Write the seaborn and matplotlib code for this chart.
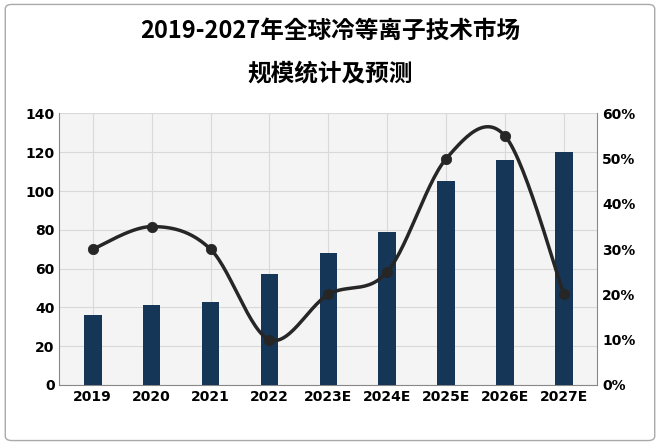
import numpy as np
import pandas as pd
import matplotlib
matplotlib.use("Agg")
import matplotlib.pyplot as plt
from matplotlib import font_manager
import seaborn as sns

years = ["2019", "2020", "2021", "2022", "2023E", "2024E", "2025E", "2026E", "2027E"]
market_size = [36, 41, 43, 57, 68, 79, 105, 116, 120]
growth_pct = [30, 35, 30, 10, 20, 25, 50, 55, 20]

# find an installed CJK font
cjk_names = sorted({f.name for f in font_manager.fontManager.ttflist if "CJK" in f.name})
cjk = next((n for n in cjk_names if "SC" in n), cjk_names[0] if cjk_names else "DejaVu Sans")
cjk_files = [f.fname for f in font_manager.fontManager.ttflist if f.name == cjk]
bold_files = [f.fname for f in font_manager.fontManager.ttflist
              if f.name == cjk and f.weight in (700, "bold")]
title_font = font_manager.FontProperties(fname=(bold_files or cjk_files)[0], size=17,
                                         weight="bold") if cjk_files else None

plt.rcParams["font.family"] = ["DejaVu Sans"]

df = pd.DataFrame({"year": years, "size": market_size, "growth": growth_pct})

fig = plt.figure(figsize=(6.6, 4.45), dpi=100)
ax = fig.add_axes([0.09, 0.135, 0.815, 0.61])
ax.set_facecolor("#f4f4f4")

sns.barplot(data=df, x="year", y="size", color="#0b3563", width=0.3, ax=ax, zorder=3)
ax.set_ylim(0, 140)
ax.set_yticks(range(0, 141, 20))
ax.set_xlabel("")
ax.set_ylabel("")
ax.grid(True, color="#d9d9d9", lw=0.8, zorder=0)
ax.set_axisbelow(True)
for s in ["top", "right"]:
    ax.spines[s].set_visible(False)
ax.spines["left"].set_color("#888888")
ax.spines["bottom"].set_color("#888888")
ax.tick_params(length=0, labelsize=10)
for lab in ax.get_xticklabels() + ax.get_yticklabels():
    lab.set_fontweight("bold")

# smooth line (Catmull-Rom through the data points)
ax2 = ax.twinx()
x = np.arange(len(growth_pct), dtype=float)
y = np.array(growth_pct, dtype=float) / 100
px = np.concatenate([[x[0]], x, [x[-1]]])
py = np.concatenate([[y[0]], y, [y[-1]]])
sx, sy = [], []
for i in range(1, len(px) - 2):
    t = np.linspace(0, 1, 30)
    for arr, out in ((px, sx), (py, sy)):
        p0, p1, p2, p3 = arr[i - 1], arr[i], arr[i + 1], arr[i + 2]
        out.extend(0.5 * (2 * p1 + (-p0 + p2) * t + (2 * p0 - 5 * p1 + 4 * p2 - p3) * t**2
                          + (-p0 + 3 * p1 - 3 * p2 + p3) * t**3))
ax2.plot(sx, sy, color="#262626", lw=2.5, zorder=4)
sns.scatterplot(x=x, y=y, color="#262626", s=55, ax=ax2, zorder=5, edgecolor="#262626")
ax2.set_ylim(0, 0.6)
ax2.set_yticks(np.arange(0, 0.61, 0.1))
ax2.set_yticklabels([f"{int(v*100)}%" for v in np.arange(0, 0.61, 0.1).round(2)])
ax2.tick_params(length=0, labelsize=10)
for lab in ax2.get_yticklabels():
    lab.set_fontweight("bold")
for s in ["top", "left", "bottom"]:
    ax2.spines[s].set_visible(False)
ax2.spines["right"].set_color("#888888")

fig.text(0.5, 0.93, "2019-2027年全球冷等离子技术市场", ha="center", va="center",
         fontproperties=title_font, fontsize=17, fontweight="bold")
fig.text(0.5, 0.835, "规模统计及预测", ha="center", va="center",
         fontproperties=title_font, fontsize=17, fontweight="bold")

fig.patches.append(matplotlib.patches.FancyBboxPatch(
    (0.008, 0.01), 0.984, 0.98, boxstyle="round,pad=0,rounding_size=0.01",
    transform=fig.transFigure, fill=False, ec="#aaaaaa", lw=1))

fig.savefig("out.png", dpi=100)
